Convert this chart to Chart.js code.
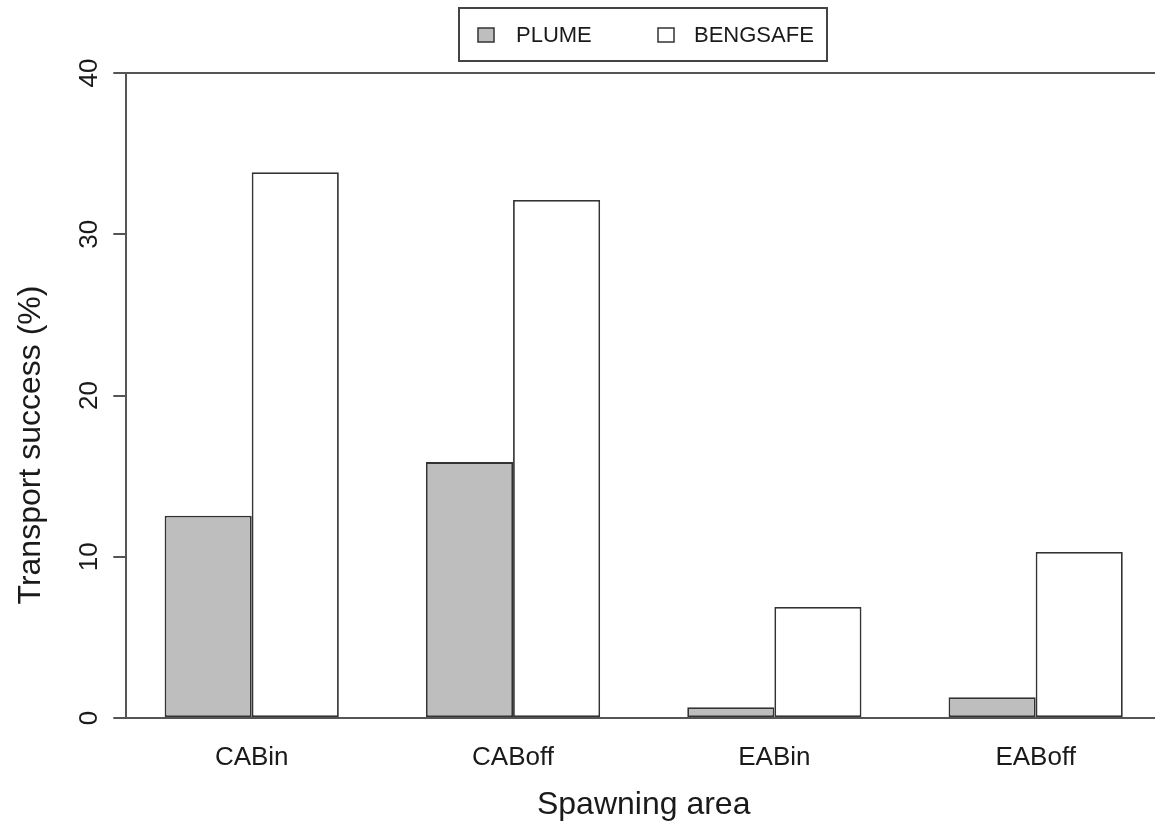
<!DOCTYPE html>
<html>
<head>
<meta charset="utf-8">
<script src="https://cdn.jsdelivr.net/npm/chart.js@4/dist/chart.umd.min.js"></script>
<style>
  html, body { margin: 0; padding: 0; background: #ffffff; overflow: hidden; width: 1155px; height: 832px; }
  #wrap { position: absolute; left: 0; top: 0; width: 1200px; height: 832px; }
</style>
</head>
<body>
<div id="wrap"><canvas id="c" width="1200" height="832"></canvas></div>
<script>
// ---- data ----
const categories = ["CABin", "CABoff", "EABin", "EABoff"];
const plumeValues = [12.55, 15.87, 0.67, 1.29];
const bengsafeValues = [33.85, 32.12, 6.88, 10.3];
const seriesNames = ["PLUME", "BENGSAFE"];
const yTickValues = [0, 10, 20, 30, 40];
const xTitle = "Spawning area";
const yTitle = "Transport success (%)";

const FONT = "'Liberation Sans', Arial, Helvetica, sans-serif";
const TEXT = "#1a1a1a";
const AXIS = "#555555";
const BARLINE = "#333333";

const toPoints = vals => vals.map((v, i) => ({ x: i, y: v }));

const yAxisPlugin = {
  id: 'rAxis',
  afterDraw(chart) {
    const ctx = chart.ctx;
    const ys = chart.scales.y;
    // rotated y tick labels
    ctx.save();
    ctx.fillStyle = TEXT;
    ctx.font = "26px " + FONT;
    ctx.textAlign = 'center';
    ctx.textBaseline = 'alphabetic';
    ys.ticks.forEach(t => {
      const py = ys.getPixelForValue(t.value);
      ctx.save();
      ctx.translate(97, py);
      ctx.rotate(-Math.PI / 2);
      ctx.fillText(String(t.value), 0, 0);
      ctx.restore();
    });
    // y title
    ctx.font = "32px " + FONT;
    ctx.save();
    ctx.translate(40, 445);
    ctx.rotate(-Math.PI / 2);
    ctx.fillText(yTitle, 0, 0);
    ctx.restore();
    ctx.restore();

    // legend box
    const L = { x: 459, y: 8, w: 368, h: 53 };
    ctx.save();
    ctx.strokeStyle = "#444444";
    ctx.lineWidth = 2;
    ctx.strokeRect(L.x, L.y, L.w, L.h);
    const boxX = [478, 658];
    const textX = [516, 694];
    ctx.font = "22px " + FONT;
    ctx.textAlign = 'left';
    ctx.textBaseline = 'middle';
    chart.data.datasets.forEach((ds, i) => {
      ctx.fillStyle = ds.backgroundColor;
      ctx.fillRect(boxX[i], 28, 16, 14);
      ctx.strokeStyle = BARLINE;
      ctx.lineWidth = 1.5;
      ctx.strokeRect(boxX[i], 28, 16, 14);
      ctx.fillStyle = TEXT;
      ctx.fillText(ds.label, textX[i], 36);
    });
    ctx.restore();
  }
};

new Chart(document.getElementById('c'), {
  type: 'bar',
  data: {
    datasets: [
      { label: seriesNames[0], data: toPoints(plumeValues), backgroundColor: "#bebebe", borderColor: BARLINE, borderWidth: 1.8, borderSkipped: false },
      { label: seriesNames[1], data: toPoints(bengsafeValues), backgroundColor: "#ffffff", borderColor: BARLINE, borderWidth: 1.8, borderSkipped: false }
    ]
  },
  options: {
    responsive: false,
    animation: false,
    devicePixelRatio: 1,
    layout: { padding: { top: 73, right: 38.9, bottom: 0, left: 0 } },
    datasets: { bar: { categoryPercentage: 2 / 3, barPercentage: 1 } },
    plugins: { legend: { display: false }, tooltip: { enabled: false } },
    scales: {
      x: {
        type: 'linear',
        min: -0.48,
        max: 3.48,
        offset: false,
        afterBuildTicks: s => { s.ticks = categories.map((c, i) => ({ value: i })); },
        afterFit: s => { s.height = 114; },
        grid: { display: false, offset: false, drawTicks: false },
        border: { display: false },
        ticks: {
          callback: v => categories[v],
          font: { size: 26, family: FONT },
          color: TEXT,
          padding: 24,
          maxRotation: 0,
          minRotation: 0,
          autoSkip: false
        },
        title: {
          display: true,
          text: xTitle,
          color: TEXT,
          font: { size: 32, family: FONT },
          padding: { top: 0, bottom: 8 }
        }
      },
      y: {
        min: 0,
        max: 40,
        afterBuildTicks: s => { s.ticks = yTickValues.map(v => ({ value: v })); },
        afterFit: s => { s.width = 126.3; },
        ticks: { display: false },
        grid: {
          display: true,
          drawOnChartArea: true,
          drawTicks: true,
          tickLength: 13,
          tickColor: AXIS,
          tickWidth: 2,
          lineWidth: 2,
          color: ctx => (ctx.tick && (ctx.tick.value === 0 || ctx.tick.value === 40)) ? AXIS : 'rgba(0,0,0,0)'
        },
        border: { display: true, color: AXIS, width: 2 }
      }
    }
  },
  plugins: [yAxisPlugin]
});
</script>
</body>
</html>
